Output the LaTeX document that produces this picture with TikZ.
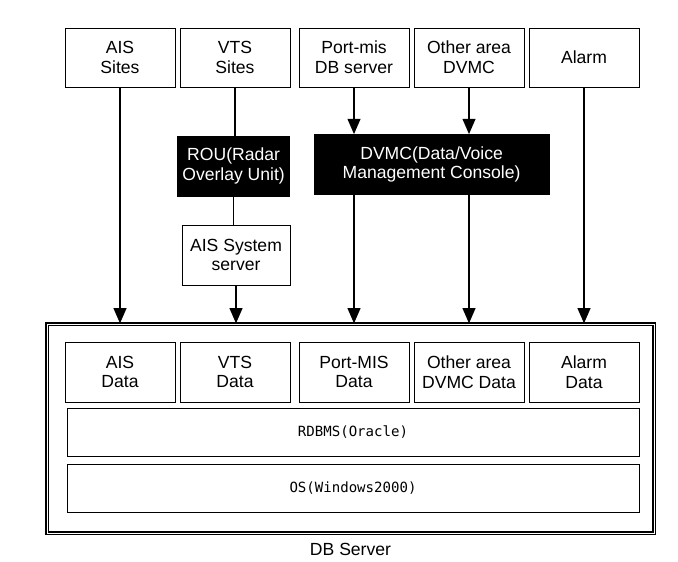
\documentclass[tikz,border=0pt]{standalone}
\usepackage{fontspec}
\setmainfont{Liberation Sans}
\newfontfamily\layerfont{DejaVu Sans Mono}
\usetikzlibrary{arrows.meta,positioning}

\begin{document}
\begin{tikzpicture}[
  source/.style={
    draw,
    semithick,
    minimum width=2.75cm,
    minimum height=1.475cm,
    align=center,
    font=\fontsize{12.5}{14}\selectfont
  },
  console/.style={
    draw,
    fill=black,
    text=white,
    minimum height=1.5cm,
    align=center,
    font=\fontsize{12.5}{14}\selectfont
  },
  layer/.style={
    draw,
    semithick,
    minimum width=14.3cm,
    minimum height=1.18cm,
    font=\layerfont\fontsize{10}{12}\selectfont
  },
  arrow/.style={-{Triangle[length=3.8mm,width=3.2mm]},line width=1.1pt},
  link/.style={line width=1.1pt}
]
  \useasboundingbox (0,0) rectangle (16.95,-14.025);
  % sources
  \node[source] (ais) at (3.0,-1.4375) {AIS\\Sites};
  \node[source] (vts) at (5.875,-1.4375) {VTS\\Sites};
  \node[source] (portmis) at (8.85,-1.4375) {Port-mis\\DB server};
  \node[source] (other) at (11.725,-1.4375) {Other area\\DVMC};
  \node[source] (alarm) at (14.6,-1.4375) {Alarm};
  % middle
  \node[console,minimum width=2.575cm] (rou) at (5.84,-4.15) {ROU(Radar\\Overlay Unit)};
  \node[console,minimum width=5.875cm] (dvmc) at (10.79,-4.11) {DVMC(Data/Voice\\Management Console)};
  \node[source,minimum width=2.7cm,minimum height=1.5cm] (aissys) at (5.9,-6.375) {AIS System\\server};
  % db server
  \node[draw,line width=0.9pt,double,double distance=0.7pt,minimum width=15.175cm,minimum height=5.225cm] (db) at (8.7625,-10.7125) {};
  \node[source,minimum height=1.5cm] (aisdata) at (3.0,-9.3) {AIS\\Data};
  \node[source,minimum height=1.5cm] (vtsdata) at (5.875,-9.3) {VTS\\Data};
  \node[source,minimum height=1.5cm] (portdata) at (8.85,-9.3) {Port-MIS\\Data};
  \node[source,minimum height=1.5cm] (otherdata) at (11.725,-9.3) {Other area\\DVMC Data};
  \node[source,minimum height=1.5cm] (alarmdata) at (14.6,-9.3) {Alarm\\Data};
  \node[layer] (rdbms) at (8.825,-10.8125) {RDBMS(Oracle)};
  \node[layer,minimum height=1.2cm] (os) at (8.825,-12.2) {OS(Windows2000)};
  \node[below=0.12cm of db,font=\fontsize{12.5}{14}\selectfont] (dbname) {DB Server};
  % connectors
  \draw[arrow] (ais) -- (ais |- db.north);
  \draw[link] (vts) -- (vts |- rou.north);
  \draw[link] (rou) -- (rou |- aissys.north);
  \draw[arrow] (aissys) -- (aissys |- db.north);
  \draw[arrow] (portmis) -- (portmis |- dvmc.north);
  \draw[arrow] (other) -- (other |- dvmc.north);
  \draw[arrow] (portmis |- dvmc.south) -- (portmis |- db.north);
  \draw[arrow] (other |- dvmc.south) -- (other |- db.north);
  \draw[arrow] (alarm) -- (alarm |- db.north);
\end{tikzpicture}
\end{document}
